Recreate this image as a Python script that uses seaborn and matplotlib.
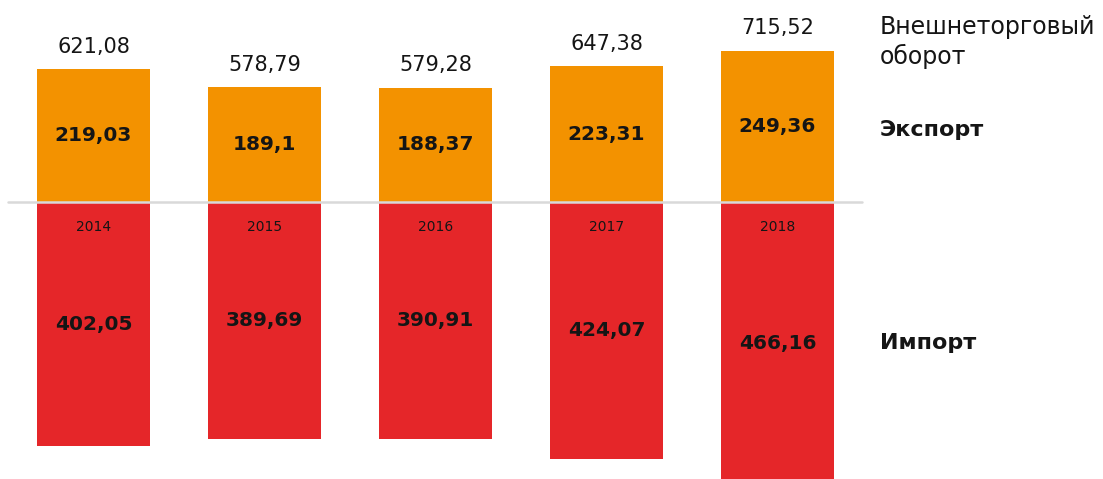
import matplotlib
matplotlib.use("Agg")
import matplotlib.pyplot as plt
import seaborn as sns
import pandas as pd

years = ["2014", "2015", "2016", "2017", "2018"]
export_vals = [219.03, 189.1, 188.37, 223.31, 249.36]
import_vals = [402.05, 389.69, 390.91, 424.07, 466.16]
totals = [621.08, 578.79, 579.28, 647.38, 715.52]

ORANGE = "#F39200"
RED = "#E52629"

sns.set_theme(style="white")
plt.rcParams["font.family"] = ["DejaVu Sans"]

def fmt(v):
    return f"{v:g}".replace(".", ",")

df = pd.DataFrame({"year": years, "export": export_vals,
                   "import_neg": [-v for v in import_vals]})

fig = plt.figure(figsize=(11.03, 4.79), dpi=100)
ax = fig.add_axes([0, 0, 1, 1])

sns.barplot(data=df, x="year", y="export", color=ORANGE, width=0.66,
            saturation=1, linewidth=0, edgecolor="none", ax=ax)
sns.barplot(data=df, x="year", y="import_neg", color=RED, width=0.66,
            saturation=1, linewidth=0, edgecolor="none", ax=ax)

ax.set_xlim(-0.547, 5.904)
ax.set_ylim(-456.2, 332.7)
ax.axis("off")

ax.axhline(0, xmin=8 / 1103, xmax=862 / 1103, color="#d9d9d9", lw=1.8, zorder=5)

TXT = "#151515"
for i, (e, im, t, y) in enumerate(zip(export_vals, import_vals, totals, years)):
    ax.text(i, e / 2, fmt(e), ha="center", va="center", fontsize=14.5,
            fontweight="bold", color=TXT)
    ax.text(i, -im / 2, fmt(im), ha="center", va="center", fontsize=14.5,
            fontweight="bold", color=TXT)
    ax.annotate(fmt(t), (i, e), xytext=(0, 9), textcoords="offset points",
                ha="center", va="bottom", fontsize=15, color=TXT)
    ax.annotate(y, (i, 0), xytext=(0, -18), textcoords="offset points",
                ha="center", va="center", fontsize=10, color=TXT)

H = 479.0
ax.text(880 / 1103, 1 - 42 / H, "Внешнеторговый\nоборот", transform=ax.transAxes,
        ha="left", va="center", fontsize=17, color=TXT, linespacing=1.2)
ax.text(880 / 1103, 1 - 130 / H, "Экспорт", transform=ax.transAxes,
        ha="left", va="center", fontsize=16, fontweight="bold", color=TXT)
ax.text(880 / 1103, 1 - 343 / H, "Импорт", transform=ax.transAxes,
        ha="left", va="center", fontsize=16, fontweight="bold", color=TXT)

fig.savefig("out.png", dpi=100)
